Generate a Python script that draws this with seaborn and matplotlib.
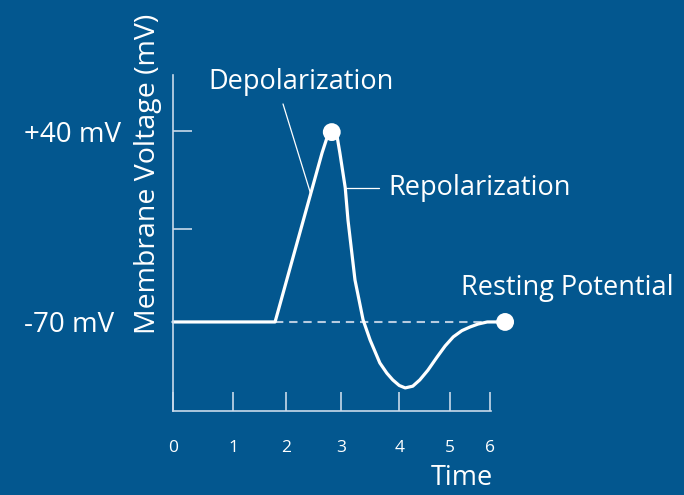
import numpy as np
import pandas as pd
import matplotlib
matplotlib.use("Agg")
import matplotlib.pyplot as plt
import seaborn as sns

# Данные: кривая потенциала действия (время, мВ)
time = [0.0, 1.89, 2.76, 2.85, 2.94, 3.04, 3.09, 3.19, 3.24, 3.37, 3.52, 3.65,
        3.83, 3.96, 4.07, 4.19, 4.30, 4.44, 4.57, 4.72, 4.89, 5.04, 5.19, 5.35, 5.50,
        5.65, 5.82, 6.15]
voltage = [-70.0, -70.0, 27.4, 36.0, 39.4, 36.6, 27.4, 7.2, -11.2, -45.8, -68.8, -80.4,
           -93.6, -99.5, -103.4, -106.6, -108.0, -107.0, -103.4, -97.8, -90.2, -83.8,
           -78.6, -75.0, -72.9, -71.2, -70.0, -70.0]
peak = (2.94, 39.4)
rest_end = (6.15, -70.0)
rest_line_x = [1.89, 5.87]
rest_line_y = [-70.0, -70.0]

x_ticks = [0.0, 1.11, 2.09, 3.11, 4.19, 5.13, 5.87]
x_labels = ["0", "1", "2", "3", "4", "5", "6"]
y_ticks = [-70, -16.4, 40]
y_labels = ["-70 mV", "", "+40 mV"]

bg = "#03578f"
axis_col = "#c9d9ea"
font = "Open Sans"

sns.set_style("white")
plt.rcParams["font.family"] = [font, "DejaVu Sans"]

fig = plt.figure(figsize=(6.84, 4.95), dpi=100, facecolor=bg)
ax = fig.add_axes([0, 0, 1, 1])
ax.set_facecolor(bg)

df = pd.DataFrame({"Time": time, "Voltage": voltage})
sns.lineplot(x=rest_line_x, y=rest_line_y, ax=ax, color="#b7cbe0", linewidth=1.5,
             linestyle=(0, (4, 2.8)))
sns.lineplot(data=df, x="Time", y="Voltage", ax=ax, color="white", linewidth=2.3,
             sort=False, estimator=None)
ax.lines[-1].set_solid_joinstyle("round")
sns.scatterplot(x=[peak[0], rest_end[0]], y=[peak[1], rest_end[1]], ax=ax,
                color="white", s=165, edgecolor="none", zorder=5)

ax.set_xlim(-3.204, 9.463)
ax.set_ylim(-169.7, 115.5)

for s in ["top", "right"]:
    ax.spines[s].set_visible(False)
ax.spines["left"].set_position(("data", 0))
ax.spines["left"].set_bounds(-121.3, 72.3)
ax.spines["bottom"].set_position(("data", -121.3))
ax.spines["bottom"].set_bounds(0, 5.89)
for s in ["left", "bottom"]:
    ax.spines[s].set_color(axis_col)
    ax.spines[s].set_linewidth(1.2)

ax.set_xticks(x_ticks, x_labels)
ax.set_yticks(y_ticks, y_labels)
ax.tick_params(axis="x", bottom=True, direction="in", length=14, width=1.2, color=axis_col,
               labelcolor="white", labelsize=12.5, pad=21)
ax.tick_params(axis="y", left=True, direction="in", length=14, width=1.2, color=axis_col,
               labelcolor="white", labelsize=20, pad=107)
for lab in ax.get_yticklabels():
    lab.set_horizontalalignment("left")
ax.set_xlabel("")
ax.set_ylabel("")

# Подписи
fs = 19.5
ax.text(5.35, -159.9, "Time", color="white", fontsize=fs, ha="center", va="center")
ax.text(-0.46, 15.5, "Membrane Voltage (mV)", color="white", fontsize=20.5,
        rotation=90, ha="center", va="center")
ax.text(2.37, 68.2, "Depolarization", color="white", fontsize=fs, ha="center", va="center")
ax.text(3.98, 7.2, "Repolarization", color="white", fontsize=fs, ha="left", va="center")
ax.text(5.33, -50.4, "Resting Potential", color="white", fontsize=fs, ha="left", va="center")
ax.plot([2.037, 2.556], [55.6, 3.2], color="white", linewidth=0.9)
ax.plot([3.204, 3.815], [7.2, 7.2], color="white", linewidth=0.9)

fig.savefig("out.png", dpi=100, facecolor=bg)
